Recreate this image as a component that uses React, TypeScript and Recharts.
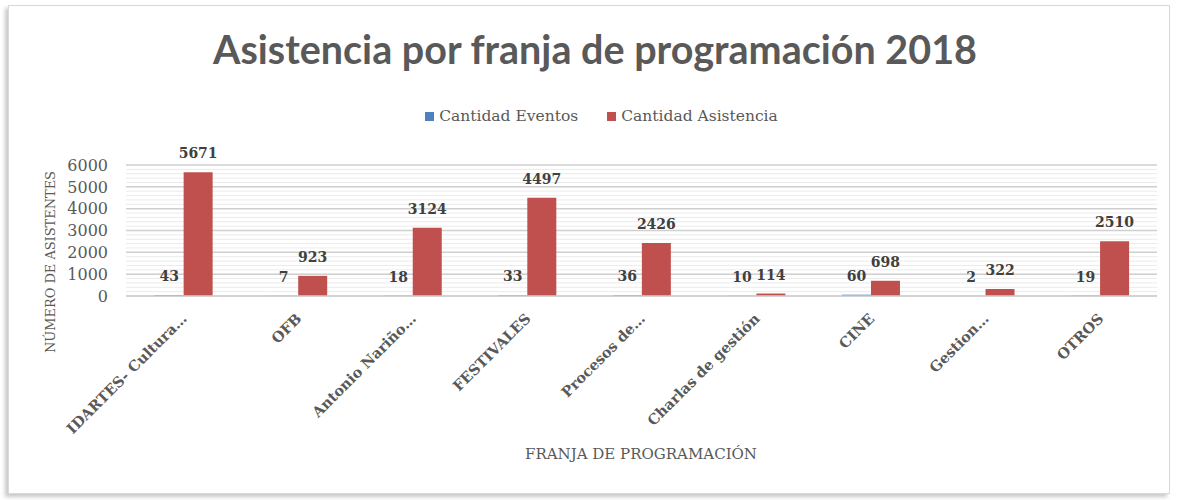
import { BarChart, Bar, XAxis, YAxis, CartesianGrid, LabelList } from 'recharts';

const CATEGORIES = [
  'IDARTES- Cultura…',
  'OFB',
  'Antonio Nariño…',
  'FESTIVALES',
  'Procesos de…',
  'Charlas de gestión',
  'CINE',
  'Gestion…',
  'OTROS',
];
const EVENTOS = [43, 7, 18, 33, 36, 10, 60, 2, 19];
const ASISTENCIA = [5671, 923, 3124, 4497, 2426, 114, 698, 322, 2510];
const Y_TICKS = [0, 1000, 2000, 3000, 4000, 5000, 6000];
const MINOR_TICKS = [
  0, 200, 400, 600, 800, 1000, 1200, 1400, 1600, 1800, 2000, 2200, 2400, 2600, 2800, 3000,
  3200, 3400, 3600, 3800, 4000, 4200, 4400, 4600, 4800, 5000, 5200, 5400, 5600, 5800, 6000,
];

const data = CATEGORIES.map((name, i) => ({
  name,
  eventos: EVENTOS[i],
  asistencia: ASISTENCIA[i],
}));

const SERIF = '"DejaVu Serif", serif';
const BLUE = '#4F81BD';
const RED = '#C0504D';
const GRAY = '#595959';

const AngledTick = (props: any) => {
  const { x, y, payload } = props;
  return (
    <g transform={`translate(${x + 1},${y + 12})`}>
      <text
        transform="rotate(-45)"
        textAnchor="end"
        x={0}
        y={0}
        dy="0.35em"
        fontFamily={SERIF}
        fontWeight="bold"
        fontSize={14.5}
        fill={GRAY}
      >
        {payload.value}
      </text>
    </g>
  );
};

const LegendBox = () => (
  <div
    style={{
      position: 'absolute',
      top: 107,
      left: 0,
      width: 1177,
      display: 'flex',
      justifyContent: 'center',
      fontFamily: SERIF,
      fontSize: 15.5,
      color: GRAY,
      paddingLeft: 26,
      boxSizing: 'border-box',
    }}
  >
    {[
      { label: 'Cantidad Eventos', color: BLUE },
      { label: 'Cantidad Asistencia', color: RED },
    ].map((it, i) => (
      <div key={it.label} style={{ display: 'flex', alignItems: 'center', marginLeft: i ? 29 : 0 }}>
        <span style={{ width: 9, height: 9, background: it.color, display: 'inline-block', marginRight: 5 }} />
        <span>{it.label}</span>
      </div>
    ))}
  </div>
);

export default function App() {
  return (
    <div style={{ position: 'absolute', left: 0, top: 0, width: 1177, height: 500, background: '#fff' }}>
      <div
        style={{
          position: 'absolute',
          left: 8,
          top: 5,
          width: 1160,
          height: 487,
          border: '1px solid #d9d9d9',
          boxShadow: '-3px 3px 4px rgba(0,0,0,0.22)',
          background: '#fff',
        }}
      />
      <div style={{ position: 'absolute', left: 0, top: 0 }}>
        <BarChart
          width={1177}
          height={500}
          data={data}
          margin={{ top: 165, right: 20, left: 66, bottom: 54 }}
          barCategoryGap="25%"
          barGap={0}
        >
          <CartesianGrid vertical={false} horizontalValues={MINOR_TICKS} stroke="#ebebeb" strokeWidth={1} />
          <CartesianGrid vertical={false} horizontalValues={Y_TICKS} stroke="#d0d0d0" strokeWidth={1.5} />
          <XAxis
            dataKey="name"
            interval={0}
            height={150}
            tickLine={false}
            axisLine={{ stroke: '#d0d0d0', strokeWidth: 1.5 }}
            tick={<AngledTick />}
          />
          <YAxis
            width={60}
            domain={[0, 6000]}
            ticks={Y_TICKS}
            interval={0}
            tickLine={false}
            axisLine={false}
            tickMargin={12}
            tick={{ fontFamily: SERIF, fontSize: 16, fill: GRAY }}
          />
          <Bar dataKey="eventos" fill={BLUE} isAnimationActive={false}>
            <LabelList
              dataKey="eventos"
              position="top"
              offset={14}
              style={{ fontFamily: SERIF, fontWeight: 'bold', fontSize: 14, fill: '#404040' }}
            />
          </Bar>
          <Bar dataKey="asistencia" fill={RED} isAnimationActive={false}>
            <LabelList
              dataKey="asistencia"
              position="top"
              offset={14}
              style={{ fontFamily: SERIF, fontWeight: 'bold', fontSize: 14, fill: '#404040' }}
            />
          </Bar>
        </BarChart>
      </div>
      <svg width={1177} height={500} style={{ position: 'absolute', left: 0, top: 0, pointerEvents: 'none' }}>
        <text
          x={595}
          y={64}
          textAnchor="middle"
          fontFamily="Lato, sans-serif"
          fontWeight="bold"
          fontSize={40}
          fill={GRAY}
          textLength={764}
          lengthAdjust="spacingAndGlyphs"
        >
          Asistencia por franja de programación 2018
        </text>
        <text
          transform="translate(55,262) rotate(-90)"
          textAnchor="middle"
          fontFamily={SERIF}
          fontSize={13}
          fill={GRAY}
          textLength={182}
          lengthAdjust="spacingAndGlyphs"
        >
          NÚMERO DE ASISTENTES
        </text>
        <text
          x={641}
          y={459}
          textAnchor="middle"
          fontFamily={SERIF}
          fontSize={15}
          fill={GRAY}
          textLength={232}
          lengthAdjust="spacingAndGlyphs"
        >
          FRANJA DE PROGRAMACIÓN
        </text>
      </svg>
      <LegendBox />
    </div>
  );
}
